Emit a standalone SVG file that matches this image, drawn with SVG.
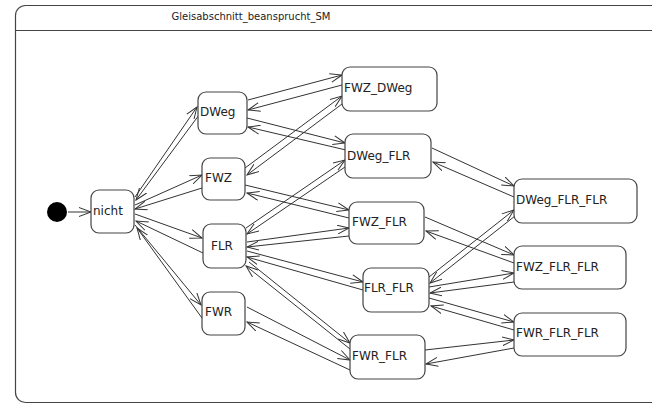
<svg xmlns="http://www.w3.org/2000/svg" width="652" height="407" viewBox="0 0 652 407">
<defs>
<style>
.frame{fill:#fff;stroke:#444;stroke-width:1.2}
.node rect{fill:#fff;stroke:#444;stroke-width:1.2}
.node text,.title{font-family:"DejaVu Sans",sans-serif;fill:#222}
.node text{font-size:12px}
.title{font-size:10px}
.conn line{stroke:#333;stroke-width:1;marker-end:url(#a)}
</style>
<marker id="a" markerWidth="13" markerHeight="10" refX="12" refY="5" orient="auto" markerUnits="userSpaceOnUse">
<path d="M0,0.5 L12,5 L0,9.5" fill="none" stroke="#333" stroke-width="1"/>
</marker>
</defs>
<rect width="652" height="407" fill="#fff"/>
<g id="frame">
<rect class="frame" x="15.5" y="5.5" width="680" height="397" rx="10"/>
<line x1="15.5" y1="30.5" x2="652" y2="30.5" stroke="#444" stroke-width="1.2"/>
<text class="title" x="251" y="20" text-anchor="middle">Gleisabschnitt_beansprucht_SM</text>
</g>
<g class="conn" id="connectors">
<line x1="68" y1="212" x2="91" y2="212"/>
<line x1="135" y1="197" x2="197" y2="107"/>
<line x1="199" y1="115" x2="136" y2="200"/>
<line x1="135" y1="205" x2="202" y2="175"/>
<line x1="202" y1="188" x2="135" y2="209"/>
<line x1="135" y1="214" x2="202" y2="238"/>
<line x1="203" y1="253" x2="136" y2="221"/>
<line x1="135" y1="225" x2="201" y2="305"/>
<line x1="202" y1="318" x2="137" y2="228"/>
<line x1="248" y1="100" x2="342" y2="75"/>
<line x1="342" y1="85" x2="248" y2="110"/>
<line x1="247" y1="118" x2="345" y2="143"/>
<line x1="346" y1="150" x2="248" y2="127"/>
<line x1="245" y1="168" x2="342" y2="96"/>
<line x1="342" y1="104" x2="247" y2="175"/>
<line x1="245" y1="185" x2="349" y2="210"/>
<line x1="349" y1="218" x2="247" y2="193"/>
<line x1="246" y1="228" x2="345" y2="160"/>
<line x1="345" y1="167" x2="247" y2="234"/>
<line x1="247" y1="242" x2="349" y2="228"/>
<line x1="349" y1="236" x2="247" y2="247"/>
<line x1="247" y1="251" x2="363" y2="282"/>
<line x1="363" y1="290" x2="247" y2="257"/>
<line x1="249" y1="262" x2="350" y2="343"/>
<line x1="350" y1="349" x2="246" y2="266"/>
<line x1="247" y1="307" x2="350" y2="360"/>
<line x1="350" y1="370" x2="247" y2="322"/>
<line x1="432" y1="148" x2="514" y2="186"/>
<line x1="514" y1="197" x2="433" y2="162"/>
<line x1="425" y1="217" x2="514" y2="255"/>
<line x1="514" y1="263" x2="426" y2="231"/>
<line x1="429" y1="277" x2="514" y2="210"/>
<line x1="515" y1="216" x2="430" y2="283"/>
<line x1="429" y1="287" x2="514" y2="273"/>
<line x1="514" y1="282" x2="430" y2="293"/>
<line x1="429" y1="298" x2="514" y2="322"/>
<line x1="514" y1="330" x2="431" y2="306"/>
<line x1="425" y1="350" x2="514" y2="340"/>
<line x1="514" y1="348" x2="426" y2="364"/>
</g>
<g id="initial"><circle cx="57" cy="212" r="10" fill="#000"/></g>
<g class="node" id="nicht"><rect x="91" y="190" width="43" height="43" rx="8"/><text x="93" y="215">nicht</text></g>
<g class="node" id="DWeg"><rect x="198" y="92" width="49" height="42" rx="8"/><text x="200" y="116">DWeg</text></g>
<g class="node" id="FWZ"><rect x="202" y="158" width="43" height="42" rx="8"/><text x="205" y="182">FWZ</text></g>
<g class="node" id="FLR"><rect x="203" y="224" width="43" height="44" rx="8"/><text x="211" y="250">FLR</text></g>
<g class="node" id="FWR"><rect x="202" y="292" width="43" height="43" rx="8"/><text x="205" y="316">FWR</text></g>
<g class="node" id="FWZ_DWeg"><rect x="342" y="67" width="95" height="44" rx="8"/><text x="344" y="92">FWZ_DWeg</text></g>
<g class="node" id="DWeg_FLR"><rect x="345" y="134" width="86" height="44" rx="8"/><text x="347" y="160">DWeg_FLR</text></g>
<g class="node" id="FWZ_FLR"><rect x="349" y="202" width="75" height="42" rx="8"/><text x="352" y="226">FWZ_FLR</text></g>
<g class="node" id="FLR_FLR"><rect x="363" y="268" width="66" height="44" rx="8"/><text x="364" y="292">FLR_FLR</text></g>
<g class="node" id="FWR_FLR"><rect x="350" y="335" width="75" height="44" rx="8"/><text x="352" y="360">FWR_FLR</text></g>
<g class="node" id="DWeg_FLR_FLR"><rect x="514" y="179" width="123" height="44" rx="8"/><text x="516" y="204">DWeg_FLR_FLR</text></g>
<g class="node" id="FWZ_FLR_FLR"><rect x="514" y="246" width="112" height="43" rx="8"/><text x="516" y="271">FWZ_FLR_FLR</text></g>
<g class="node" id="FWR_FLR_FLR"><rect x="514" y="313" width="112" height="43" rx="8"/><text x="516" y="337">FWR_FLR_FLR</text></g>
</svg>
